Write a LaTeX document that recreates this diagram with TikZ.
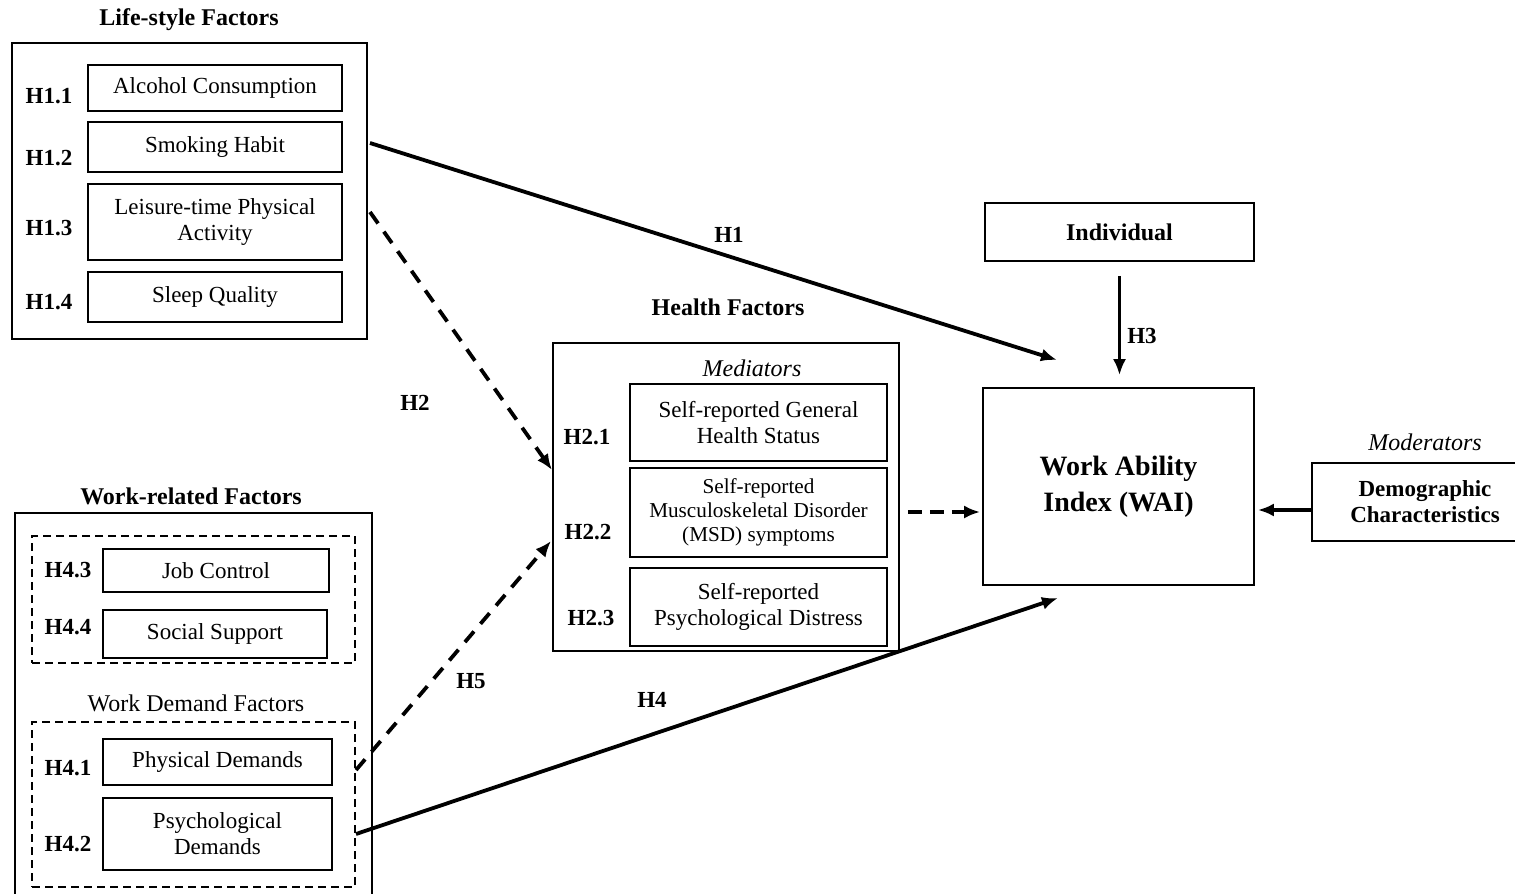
\documentclass[tikz,border=0pt]{standalone}
\usepackage{fontspec}
\setmainfont{Liberation Serif}
\usetikzlibrary{arrows.meta,calc}
\tikzset{>={Latex[length=8pt,width=6.5pt]}}
\def\itemfont{\fontsize{11.5}{13}\selectfont}
\def\hypfont{\bfseries\fontsize{11.5}{13}\selectfont}
\def\headfont{\bfseries\fontsize{12}{14}\selectfont}
\tikzset{
  factor/.style={draw, line width=0.8pt, align=center, inner sep=0pt, font=\itemfont},
  group/.style={draw, line width=0.8pt, inner sep=0pt},
  subgroup/.style={draw, line width=0.8pt, dash pattern=on 4pt off 2.5pt, inner sep=0pt},
  hyp/.style={font=\hypfont, inner sep=0pt},
  heading/.style={font=\headfont, inner sep=0pt},
  note/.style={font=\itshape\fontsize{12}{14}\selectfont, inner sep=0pt},
  effect/.style={->, line width=1.9pt},
  indirect/.style={effect, dash pattern=on 7pt off 5pt},
}

\begin{document}
\begin{tikzpicture}[x=0.5pt, y=-0.5pt]
  \useasboundingbox (0,0) rectangle (1515,894);

  % life-style factors
  \node[heading] (lifetitle) at (189,20) {Life-style Factors};
  \node[group, minimum width=177.5pt, minimum height=148pt] (life) at (189.5,191) {};
  \node[factor, minimum width=127pt, minimum height=23pt] (alcohol) at (215,88) {Alcohol Consumption};
  \node[factor, minimum width=127pt, minimum height=25pt] (smoke) at (215,147) {Smoking Habit};
  \node[factor, minimum width=127pt, minimum height=38pt] (leisure) at (215,222) {Leisure-time Physical\\Activity};
  \node[factor, minimum width=127pt, minimum height=25pt] (sleep) at (215,297) {Sleep Quality};
  \node[hyp] (h11) at (49,96) {H1.1};
  \node[hyp] (h12) at (49,158) {H1.2};
  \node[hyp] (h13) at (49,228) {H1.3};
  \node[hyp] (h14) at (49,302) {H1.4};

  % work-related factors
  \node[heading] (worktitle) at (191,496) {Work-related Factors};
  \node[group, minimum width=178.5pt, minimum height=193.5pt] (work) at (193.5,706.5) {};
  \node[subgroup, minimum width=161.5pt, minimum height=63.5pt] (control) at (193.5,599.5) {};
  \node[factor, minimum width=113pt, minimum height=21.5pt] (jobctrl) at (216,570.5) {Job Control};
  \node[factor, minimum width=112pt, minimum height=24pt] (social) at (215,634) {Social Support};
  \node[hyp] (h43) at (68,570) {H4.3};
  \node[hyp] (h44) at (68,627) {H4.4};
  \node[font=\fontsize{12}{14}\selectfont, inner sep=0pt] (demandtitle) at (196,703) {Work Demand Factors};
  \node[subgroup, minimum width=161.5pt, minimum height=82.5pt] (demand) at (193.5,804.5) {};
  \node[factor, minimum width=114.5pt, minimum height=23pt] (phys) at (217.5,762) {Physical Demands};
  \node[factor, minimum width=114.5pt, minimum height=36pt] (psych) at (217.5,834) {Psychological\\Demands};
  \node[hyp] (h41) at (68,768) {H4.1};
  \node[hyp] (h42) at (68,844) {H4.2};

  % health factors (mediators)
  \node[heading] (healthtitle) at (728,307) {Health Factors};
  \node[group, minimum width=173pt, minimum height=154pt] (health) at (726,497) {};
  \node[note] (mediators) at (752,368) {Mediators};
  \node[factor, minimum width=128.5pt, minimum height=38.5pt] (genhealth) at (758.5,422.5) {Self-reported General\\Health Status};
  \node[factor, minimum width=128.5pt, minimum height=44.5pt, font=\fontsize{10.6}{12}\selectfont] (msd) at (758.5,512.5) {Self-reported\\Musculoskeletal Disorder\\(MSD) symptoms};
  \node[factor, minimum width=128.5pt, minimum height=39pt] (distress) at (758.5,607) {Self-reported\\Psychological Distress};
  \node[hyp] (h21) at (587,437) {H2.1};
  \node[hyp] (h22) at (588,532) {H2.2};
  \node[hyp] (h23) at (591,618) {H2.3};

  % outcome and moderators
  \node[factor, minimum width=134.5pt, minimum height=29pt, font=\headfont] (indiv) at (1119.5,232) {Individual};
  \node[factor, minimum width=135.5pt, minimum height=98.5pt, font=\bfseries\fontsize{14}{18}\selectfont] (wai) at (1118.5,486.5) {Work Ability\\Index (WAI)};
  \node[note] (moderators) at (1425,442) {Moderators};
  \node[factor, minimum width=113pt, minimum height=39pt, font=\hypfont] (demog) at (1425,502) {Demographic\\Characteristics};

  % free ends of the hypothesis paths
  \coordinate (h1from) at (370,143);
  \coordinate (h1to) at (1057,360);
  \coordinate (h2from) at (370,212);
  \coordinate (h2to) at (552,470);
  \coordinate (h5from) at (356,770);
  \coordinate (h5to) at (551,541);
  \coordinate (h4from) at (356,834);
  \coordinate (h4to) at (1058,598);
  \coordinate (medlevel) at (0,512);
  \coordinate (modlevel) at (0,510);

  \draw[effect] (h1from) -- (h1to);
  \draw[indirect] (h2from) -- (h2to);
  \draw[indirect] (h5from) -- (h5to);
  \draw[effect] (h4from) -- (h4to);
  \draw[effect, shorten <=7pt, shorten >=6pt] (indiv.south) -- (indiv.south |- wai.north);
  \draw[indirect, dash pattern=on 7pt off 4pt, shorten <=4pt, shorten >=1pt] (health.east |- medlevel) -- (wai.west |- medlevel);
  \draw[effect, shorten >=1.5pt] (demog.west |- modlevel) -- (wai.east |- modlevel);

  \node[hyp] (lh1) at (729,235) {H1};
  \node[hyp] (lh2) at (415,403) {H2};
  \node[hyp] (lh3) at (1142,336) {H3};
  \node[hyp] (lh4) at (652,700) {H4};
  \node[hyp] (lh5) at (471,681) {H5};
\end{tikzpicture}
\end{document}
